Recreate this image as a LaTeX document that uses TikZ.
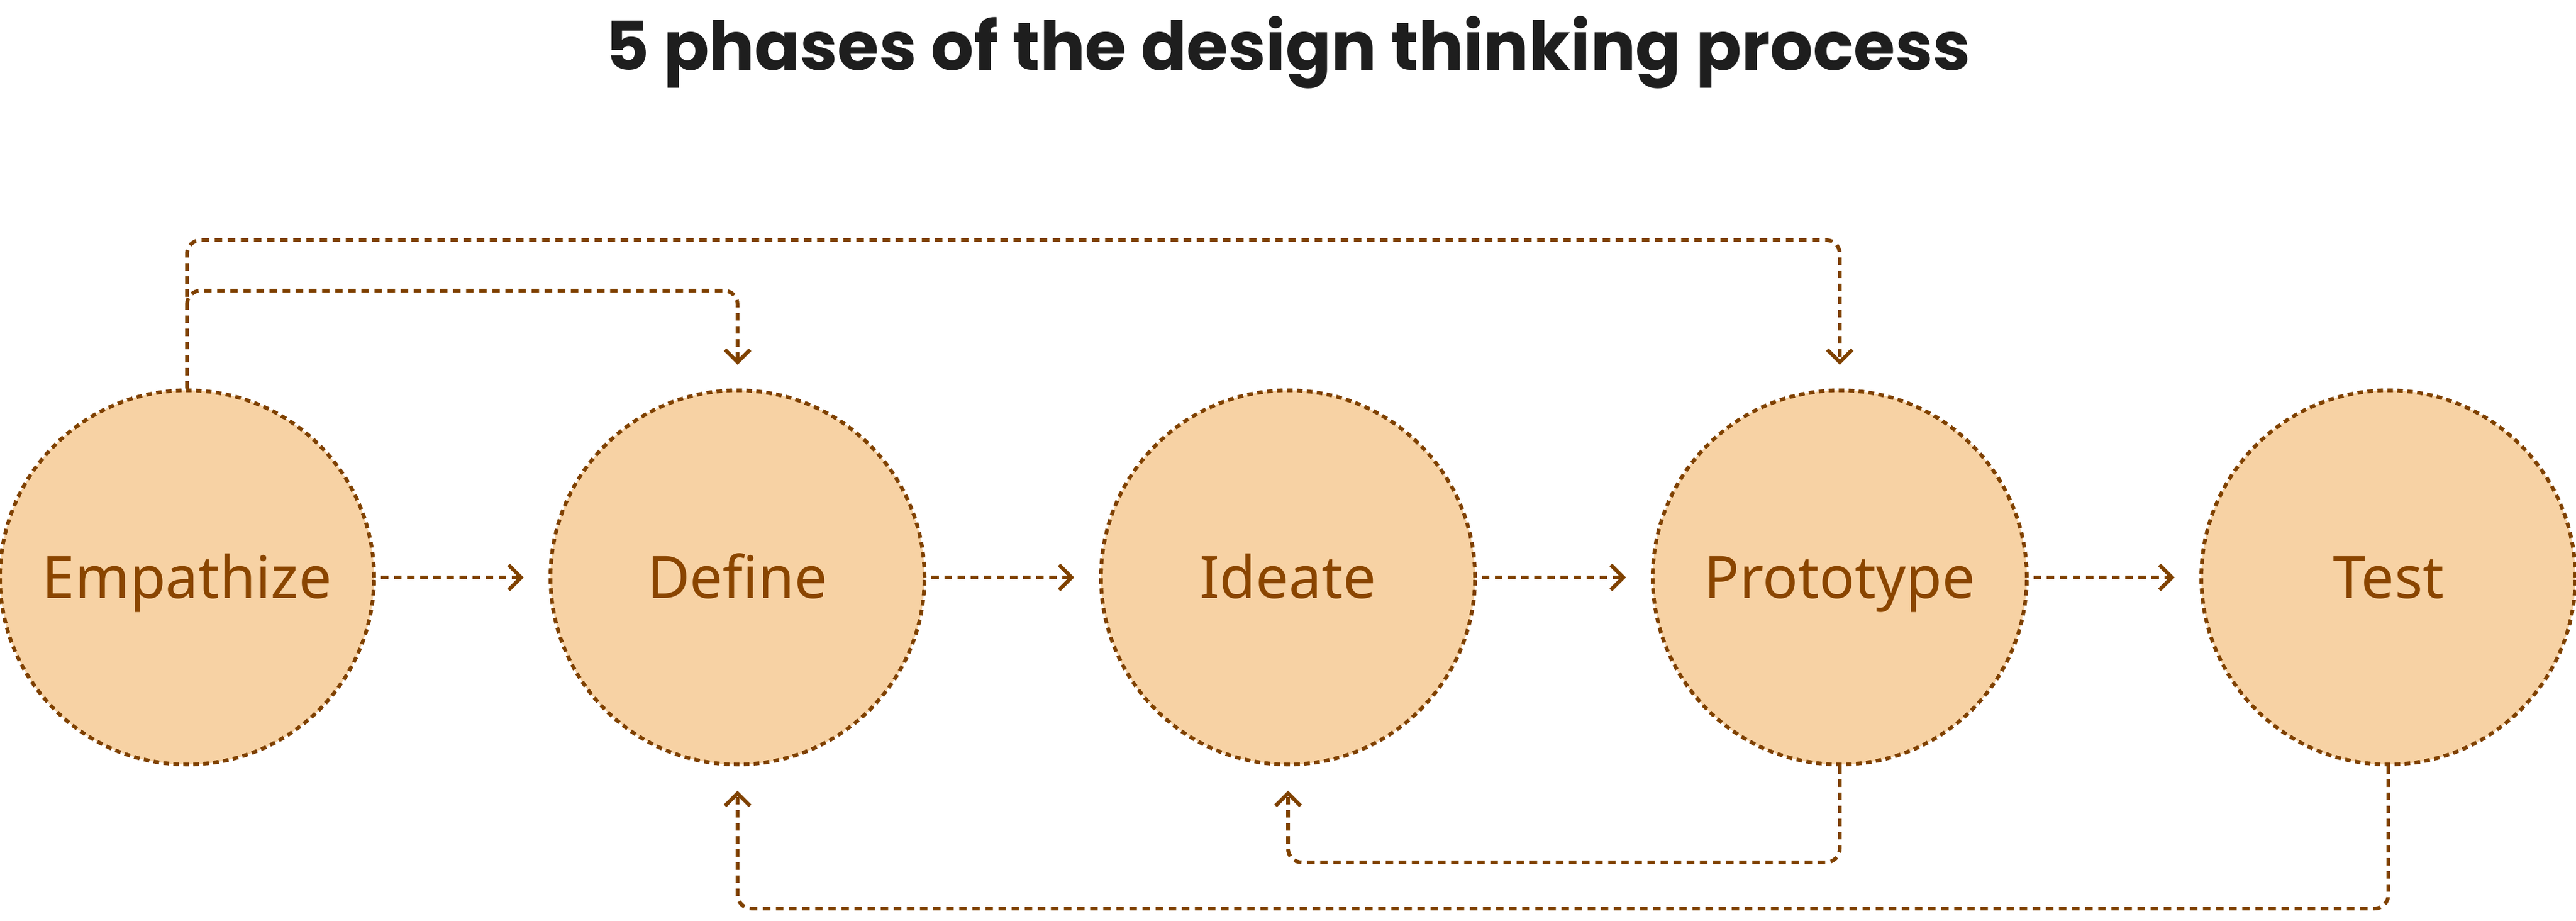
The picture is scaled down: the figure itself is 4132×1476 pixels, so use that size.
\documentclass[tikz,border=0pt]{standalone}
\usepackage{fontspec}
\setmainfont{Noto Sans}
\newfontfamily\titlefont{Poppins}
\usetikzlibrary{arrows.meta}
\definecolor{brn}{HTML}{7F4100}
\definecolor{lbl}{HTML}{8A4500}
\definecolor{fillc}{HTML}{F7D2A4}
\tikzset{
  phase/.style={circle,minimum size=600pt,inner sep=0pt,fill=fillc,draw=brn,line width=6pt,dash pattern=on 9pt off 7pt,text=lbl,font=\fontsize{94}{100}\selectfont,text height=67pt,text depth=0pt},
  conn/.style={draw=brn,line width=6pt,dash pattern=on 12pt off 9pt,rounded corners=22pt,-{Straight Barb[length=20pt,width=40pt,line width=6pt]}},
}
\begin{document}
\begin{tikzpicture}[x=1pt,y=-1pt]
\useasboundingbox (0,0) rectangle (4132,1476);
\node[font=\titlefont\bfseries\fontsize{108}{120}\selectfont,text={rgb,255:red,30;green,30;blue,30}] (title) at (2066,84) {5 phases of the design thinking process};
\node[phase] (emp) at (300,926) {Empathize};
\node[phase] (def) at (1183,926) {Define};
\node[phase] (ide) at (2066,926) {Ideate};
\node[phase] (pro) at (2951,926) {Prototype};
\node[phase] (tst) at (3831,926) {Test};
\coordinate (defin) at (1183,585);
\coordinate (proin) at (2951,585);
\coordinate (defbot) at (1183,1268);
\coordinate (idebot) at (2066,1268);
\draw[conn] ([xshift=8pt]emp.east) -- ([xshift=-40pt]def.west);
\draw[conn] ([xshift=8pt]def.east) -- ([xshift=-40pt]ide.west);
\draw[conn] ([xshift=8pt]ide.east) -- ([xshift=-40pt]pro.west);
\draw[conn] ([xshift=8pt]pro.east) -- ([xshift=-40pt]tst.west);
\draw[conn] (emp.north) -- (300,385) -- (2951,385) -- (proin);
\draw[conn] (300,490) -- (300,466) -- (1183,466) -- (defin);
\draw[conn] (pro.south) -- (2951,1383) -- (2066,1383) -- (idebot);
\draw[conn] (tst.south) -- (3831,1457) -- (1183,1457) -- (defbot);
\end{tikzpicture}
\end{document}
